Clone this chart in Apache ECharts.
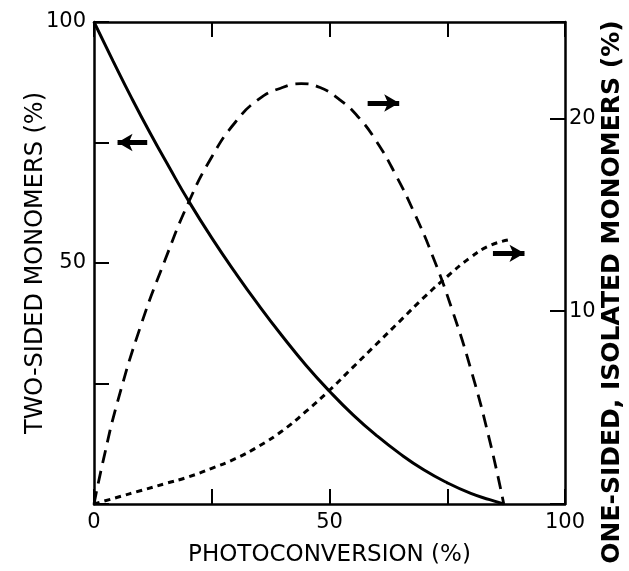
<!DOCTYPE html>
<html>
<head>
<meta charset="utf-8">
<script src="https://cdn.jsdelivr.net/npm/echarts@6/dist/echarts.min.js"></script>
<style>
  html, body { margin: 0; padding: 0; background: #fff; }
  #chart { width: 629px; height: 571px; }
</style>
</head>
<body>
<div id="chart"></div>
<script>
// ---- data ----
// two-sided monomers (%), left axis
const twoSidedX = [0, 4, 8, 12, 16, 20, 25, 30, 35, 40, 45, 50, 55, 60, 65, 70, 75, 80, 84, 87];
const twoSidedY = [100, 92, 84.2, 76.8, 69.8, 63, 55.2, 48, 41.2, 34.8, 28.8, 23.4, 18.5, 14.2, 10.4, 7.1, 4.4, 2.2, 0.9, 0];

// one-sided monomers (%), right axis (dashed)
const oneSidedX = [0, 2, 5, 10, 15, 20, 25, 30, 35, 40, 44, 48, 52, 56, 60, 64, 68, 72, 76, 80, 84, 87];
const oneSidedY = [0, 2.3, 5.3, 9.3, 12.6, 15.6, 18, 19.8, 21, 21.6, 21.8, 21.6, 21, 20.1, 18.8, 17.1, 15.1, 12.8, 10.1, 7.0, 3.3, 0];

// isolated monomers (%), right axis (dotted)
const isolatedX = [0, 5, 10, 15, 20, 25, 30, 35, 40, 45, 50, 55, 60, 65, 70, 75, 80, 84, 88];
const isolatedY = [0, 0.35, 0.7, 1.05, 1.4, 1.85, 2.35, 3.0, 3.8, 4.8, 5.9, 7.1, 8.3, 9.5, 10.7, 11.8, 12.8, 13.4, 13.7];

// arrows pointing to the axis each curve belongs to: [x from, x to, y]
const arrowLeft = [11.3, 5.0, 75];
const arrowRight1 = [58.1, 64.8, 20.8];
const arrowRight2 = [84.7, 91.4, 13.0];

const xLabels = [0, 50, 100];
const leftLabels = [50, 100];
const rightLabels = [10, 20];

const pair = (xs, ys) => xs.map((x, i) => [x, ys[i]]);

function arrow(a) {
  return {
    silent: true,
    animation: false,
    symbol: ['none', 'arrow'],
    symbolSize: [13, 15],
    label: { show: false },
    lineStyle: { color: '#000', width: 5, type: 'solid' },
    data: [[{ coord: [a[0], a[2]] }, { coord: [a[1], a[2]] }]]
  };
}

const font = 'DejaVu Sans';
const black = '#000';
const frameLine = { show: true, onZero: false, lineStyle: { color: black, width: 2.5 } };
const inTick = { inside: true, length: 15, lineStyle: { color: black, width: 2 } };

const chart = echarts.init(document.getElementById('chart'));
const option = {
  animation: false,
  backgroundColor: '#fff',
  grid: { left: 94, right: 64, top: 22, bottom: 67, containLabel: false, outerBoundsMode: 'none' },
  xAxis: [
    {
      type: 'value',
      min: 0, max: 100, interval: 25,
      name: 'PHOTOCONVERSION (%)',
      nameLocation: 'middle',
      nameGap: 40,
      nameMoveOverlap: false,
      nameTextStyle: { fontFamily: font, fontSize: 23, color: black },
      axisLine: frameLine,
      axisTick: inTick,
      axisLabel: {
        fontFamily: font, fontSize: 21, color: black, margin: 8,
        formatter: v => xLabels.includes(v) ? String(v) : ''
      },
      splitLine: { show: false }
    },
    {
      type: 'value',
      position: 'top',
      min: 0, max: 100, interval: 25,
      axisLine: frameLine,
      axisTick: inTick,
      axisLabel: { show: false },
      splitLine: { show: false }
    }
  ],
  yAxis: [
    {
      type: 'value',
      min: 0, max: 100, interval: 25,
      name: 'TWO-SIDED MONOMERS (%)',
      nameLocation: 'middle',
      nameGap: 46,
      nameRotate: 90,
      nameMoveOverlap: false,
      nameTextStyle: { fontFamily: font, fontSize: 24, color: black },
      axisLine: frameLine,
      axisTick: inTick,
      axisLabel: {
        fontFamily: font, fontSize: 21, color: black, margin: 8,
        formatter: v => leftLabels.includes(v) ? String(v) : ''
      },
      splitLine: { show: false }
    },
    {
      type: 'value',
      position: 'right',
      min: 0, max: 25, interval: 10,
      axisLine: frameLine,
      axisTick: inTick,
      axisLabel: {
        fontFamily: font, fontSize: 21, color: black, margin: 4,
        formatter: v => rightLabels.includes(v) ? String(v) : ''
      },
      splitLine: { show: false }
    }
  ],
  graphic: [
    {
      type: 'text',
      x: 612, y: 292,
      rotation: Math.PI / 2,
      style: {
        text: 'ONE-SIDED, ISOLATED MONOMERS (%)',
        fontFamily: font, fontSize: 25, fontWeight: 'bold', fill: black,
        align: 'center', verticalAlign: 'middle'
      }
    }
  ],
  series: [
    {
      name: 'Two-sided',
      type: 'line',
      yAxisIndex: 0,
      smooth: true,
      showSymbol: false,
      data: pair(twoSidedX, twoSidedY),
      lineStyle: { color: black, width: 3 },
      markLine: arrow(arrowLeft)
    },
    {
      name: 'One-sided',
      type: 'line',
      yAxisIndex: 1,
      smooth: true,
      showSymbol: false,
      data: pair(oneSidedX, oneSidedY),
      lineStyle: { color: black, width: 2.8, type: [13, 8] },
      markLine: arrow(arrowRight1)
    },
    {
      name: 'Isolated',
      type: 'line',
      yAxisIndex: 1,
      smooth: true,
      showSymbol: false,
      data: pair(isolatedX, isolatedY),
      lineStyle: { color: black, width: 3, type: [6, 5] },
      markLine: arrow(arrowRight2)
    }
  ]
};

chart.setOption(option);
window.addEventListener('resize', () => chart.resize());
</script>
</body>
</html>
